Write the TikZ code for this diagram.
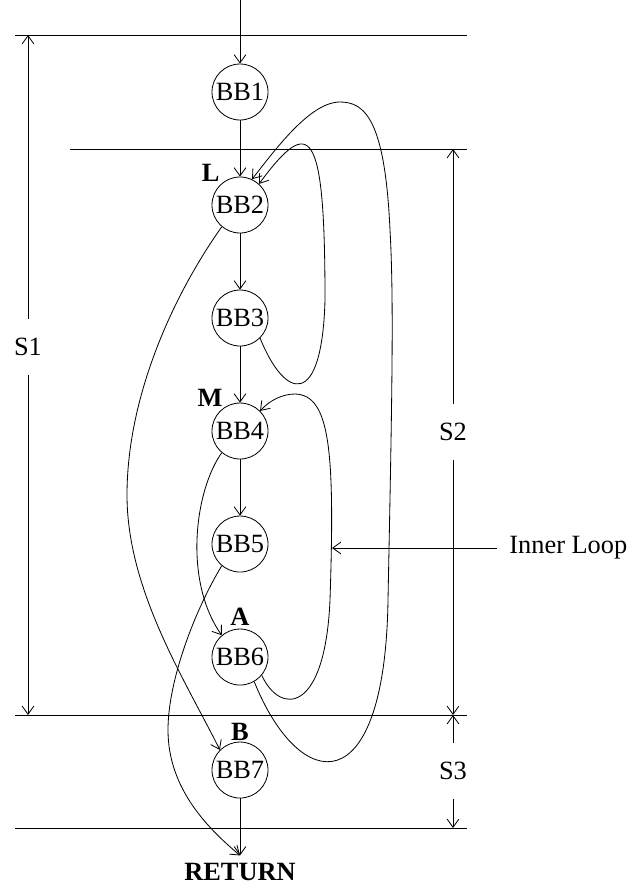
\documentclass[tikz,border=0pt]{standalone}
\usepackage{fontspec}
\setmainfont{Liberation Serif}
\usetikzlibrary{positioning,arrows.meta}

\begin{document}
\begin{tikzpicture}[x=0.03cm,y=-0.03cm,node distance=3.39cm,line width=0.7pt,
    >={Straight Barb[length=7pt,width=10pt]},
    every node/.style={font=\fontsize{22.5}{26}\selectfont},
    bb/.style={draw,circle,minimum size=1.68cm,inner sep=0pt},
    tag/.style={inner sep=0pt,font=\fontsize{22.5}{26}\selectfont\bfseries},
    dim/.style={inner xsep=2pt,inner ysep=0.56cm}]
        \useasboundingbox (0,0) rectangle (633,890);
        % section rules
        \draw (15,35) -- (467,35);
        \draw (70,149) -- (467,149);
        \draw (15,715) -- (467,715);
        \draw (15,828) -- (467,828);
        % blocks
        \node[bb] (bb1) at (240,92) {BB1};
        \node[bb,below of=bb1] (bb2) {BB2};
        \node[bb,below of=bb2] (bb3) {BB3};
        \node[bb,below of=bb3] (bb4) {BB4};
        \node[bb,below of=bb4] (bb5) {BB5};
        \node[bb,below of=bb5] (bb6) {BB6};
        \node[bb,below of=bb6] (bb7) {BB7};
        \node[tag,outer sep=0.24cm,below=1.71cm of bb7] (ret) {RETURN};
        \node[tag,above left=0.09cm and 0cm of bb2.north west] (lblL) {L};
        \node[tag,above left=0.12cm and -0.09cm of bb4.north west] (lblM) {M};
        \node[tag,above=0.09cm of bb6] (lblA) {A};
        \node[tag,above=0.03cm of bb7] (lblB) {B};
        \coordinate (entry) at (240,0);
        % straight flow
        \draw[->] (entry) -- (bb1);
        \draw[->] (bb1) -- (bb2);
        \draw[->] (bb2) -- (bb3);
        \draw[->] (bb3) -- (bb4);
        \draw[->] (bb4) -- (bb5);
        \draw[->] (bb7) -- (ret.north);
        % back edges
        \draw[->] (bb3.-45) .. controls (285,400) and (322,410) .. (325,300)
              .. controls (325,125) and (310,115) .. (bb2.48);
        \draw[->] (bb6.-60) .. controls (300,795) and (385,805) .. (388,600)
              .. controls (392,400) and (394,300) .. (390,230)
              .. controls (385,120) and (365,102) .. (340,102)
              .. controls (310,102) and (275,150) .. (bb2.65);
        \draw[->] (bb6.-40) .. controls (280,715) and (325,715) .. (330,600)
              .. controls (335,450) and (330,395) .. (295,394)
              .. controls (283,394) and (270,400) .. (bb4.45);
        % forward jumps
        \draw[->] (bb2.-130) .. controls (170,300) and (127,400) .. (127,495)
              .. controls (127,590) and (185,680) .. (bb7.135);
        \draw[->] (bb4.-130) .. controls (195,490) and (183,580) .. (bb6.130);
        \draw[->] (bb5.-130) .. controls (195,610) and (168,680) .. (168,730)
              .. controls (168,790) and (210,830) .. (ret.north);
        % spans
        \node[dim] (s1) at (28,347) {S1};
        \node[dim] (s2) at (453,432) {S2};
        \node[dim] (s3) at (453,771) {S3};
        \coordinate (s1top) at (28,35);
        \coordinate (s1bot) at (28,715);
        \coordinate (s2top) at (453,149);
        \coordinate (s2bot) at (453,715);
        \coordinate (s3bot) at (453,828);
        \draw[->] (s1) -- (s1top);
        \draw[->] (s1) -- (s1bot);
        \draw[->] (s2) -- (s2top);
        \draw[->] (s2) -- (s2bot);
        \draw[->] (s3) -- (s2bot);
        \draw[->] (s3) -- (s3bot);
        \node[anchor=west,inner xsep=0.36cm,inner ysep=0pt] (inl) at (497,548) {Inner Loop};
        \coordinate (inlp) at (332,548);
        \draw[->] (inl.west) -- (inlp);
      \end{tikzpicture}
\end{document}
